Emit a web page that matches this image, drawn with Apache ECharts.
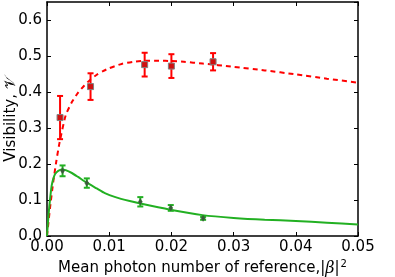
<!DOCTYPE html>
<html>
<head>
<meta charset="utf-8">
<script src="https://cdn.jsdelivr.net/npm/echarts@6/dist/echarts.min.js"></script>
<style>html,body{margin:0;padding:0;background:#fff}#c{width:395px;height:277px}</style>
</head>
<body>
<div id="c"></div>
<script>
// Measured data (red: squares, green: diamonds)
const redX = [0.0021, 0.0070, 0.0157, 0.0200, 0.0267];
const redY = [0.329, 0.415, 0.476, 0.472, 0.484];
const redErr = [0.060, 0.037, 0.033, 0.033, 0.024];

const greenX = [0.0025, 0.0064, 0.0150, 0.0199, 0.0251];
const greenY = [0.181, 0.147, 0.095, 0.078, 0.049];
const greenErr = [0.015, 0.013, 0.013, 0.008, 0.004];

// Theory curves
const redCurveX = [0, 0.0005, 0.001, 0.0015, 0.002, 0.003, 0.004, 0.005, 0.006, 0.007, 0.008, 0.009, 0.010, 0.012, 0.014, 0.016, 0.018, 0.020, 0.022, 0.025, 0.030, 0.035, 0.040, 0.045, 0.050];
const redCurveY = [0, 0.080, 0.150, 0.208, 0.258, 0.335, 0.372, 0.398, 0.418, 0.435, 0.448, 0.458, 0.466, 0.478, 0.484, 0.487, 0.487, 0.486, 0.484, 0.479, 0.470, 0.460, 0.449, 0.437, 0.426];

const greenCurveX = [0, 0.00025, 0.0005, 0.00075, 0.001, 0.0013, 0.0018, 0.0024, 0.003, 0.004, 0.005, 0.0064, 0.008, 0.0093, 0.011, 0.0133, 0.015, 0.0198, 0.025, 0.030, 0.035, 0.040, 0.045, 0.050];
const greenCurveY = [0, 0.060, 0.104, 0.140, 0.158, 0.172, 0.181, 0.185, 0.183, 0.175, 0.164, 0.148, 0.132, 0.119, 0.108, 0.097, 0.090, 0.073, 0.058, 0.050, 0.045, 0.042, 0.037, 0.032];

const xTicks = ['0.00', '0.01', '0.02', '0.03', '0.04', '0.05'];
const yTicks = ['0.0', '0.1', '0.2', '0.3', '0.4', '0.5', '0.6'];

const RED = '#ff0000';
const GREEN = '#22b022';
const FONT = 'DejaVu Sans';

function zip(xs, ys) { return xs.map((x, i) => [x, ys[i]]); }
function errData(xs, ys, es) { return xs.map((x, i) => [x, ys[i] - es[i], ys[i] + es[i]]); }
function errRender(color) {
  return function (params, api) {
    const x = api.value(0);
    const lo = api.coord([x, api.value(1)]);
    const hi = api.coord([x, api.value(2)]);
    const cap = 3;
    const st = { stroke: color, lineWidth: 2 };
    return {
      type: 'group',
      children: [
        { type: 'line', shape: { x1: lo[0], y1: lo[1], x2: hi[0], y2: hi[1] }, style: st },
        { type: 'line', shape: { x1: lo[0] - cap, y1: lo[1], x2: lo[0] + cap, y2: lo[1] }, style: st },
        { type: 'line', shape: { x1: hi[0] - cap, y1: hi[1], x2: hi[0] + cap, y2: hi[1] }, style: st }
      ]
    };
  };
}

const axisCommon = {
  min: 0,
  axisLine: { show: true, onZero: false, lineStyle: { color: '#000', width: 1.5 } },
  axisTick: { show: true, inside: true, length: 4, lineStyle: { color: '#000', width: 1 } },
  splitLine: { show: false }
};

const chart = echarts.init(document.getElementById('c'), null, { renderer: 'canvas' });
chart.setOption({
  animation: false,
  backgroundColor: '#fff',
  grid: { left: 47, right: 37, top: 2, bottom: 41, containLabel: false, outerBoundsMode: 'none' },
  xAxis: [
    Object.assign({}, axisCommon, {
      type: 'value', max: 0.05, interval: 0.01, position: 'bottom',
      axisLabel: { color: '#000', fontFamily: FONT, fontSize: 15, margin: 4,
        formatter: v => xTicks[Math.round(v / 0.01)] },
      name: '{t|Mean photon number of reference,|}{b|β}{t||}{s|2}',
      nameLocation: 'middle', nameGap: 23, nameMoveOverlap: false,
      nameTextStyle: { rich: {
        t: { fontFamily: FONT, fontSize: 15, color: '#000' },
        b: { fontFamily: 'DejaVu Serif', fontStyle: 'italic', fontSize: 16, color: '#000' },
        s: { fontFamily: FONT, fontSize: 10, color: '#000', verticalAlign: 'top', padding: [0, 0, 9, 1] }
      } }
    }),
    Object.assign({}, axisCommon, {
      type: 'value', max: 0.05, interval: 0.01, position: 'top',
      axisLabel: { show: false }
    })
  ],
  yAxis: [
    Object.assign({}, axisCommon, {
      type: 'value', max: 0.65, interval: 0.1, position: 'left',
      axisLabel: { color: '#000', fontFamily: FONT, fontSize: 15, margin: 5, showMaxLabel: false,
        formatter: v => { const i = Math.round(v / 0.1); return Math.abs(v - i * 0.1) < 1e-6 ? yTicks[i] : ''; } },
      name: 'Visibility, 𝒱',
      nameLocation: 'middle', nameGap: 28, nameMoveOverlap: false,
      nameTextStyle: { fontFamily: FONT, fontSize: 15, color: '#000' }
    }),
    Object.assign({}, axisCommon, {
      type: 'value', max: 0.65, interval: 0.1, position: 'right',
      axisLabel: { show: false }
    })
  ],
  series: [
    { type: 'line', data: zip(redCurveX, redCurveY), showSymbol: false, symbol: 'none', smooth: 0.2,
      lineStyle: { color: RED, width: 2, type: [5, 4] }, z: 2 },
    { type: 'line', data: zip(greenCurveX, greenCurveY), showSymbol: false, symbol: 'none', smooth: 0.2,
      lineStyle: { color: GREEN, width: 2 }, z: 2 },
    { type: 'custom', data: errData(redX, redY, redErr), renderItem: errRender(RED), z: 3 },
    { type: 'custom', data: errData(greenX, greenY, greenErr), renderItem: errRender(GREEN), z: 3 },
    { type: 'scatter', data: zip(redX, redY), symbol: 'rect', symbolSize: 6,
      itemStyle: { color: '#d01010', borderColor: '#808080', borderWidth: 1, opacity: 1 }, z: 4 },
    { type: 'scatter', data: zip(greenX, greenY), symbol: 'diamond', symbolSize: [4, 6],
      itemStyle: { color: '#3a5a3a', borderColor: '#3a5a3a', borderWidth: 0.5, opacity: 1 }, z: 4 }
  ]
});
</script>
</body>
</html>
